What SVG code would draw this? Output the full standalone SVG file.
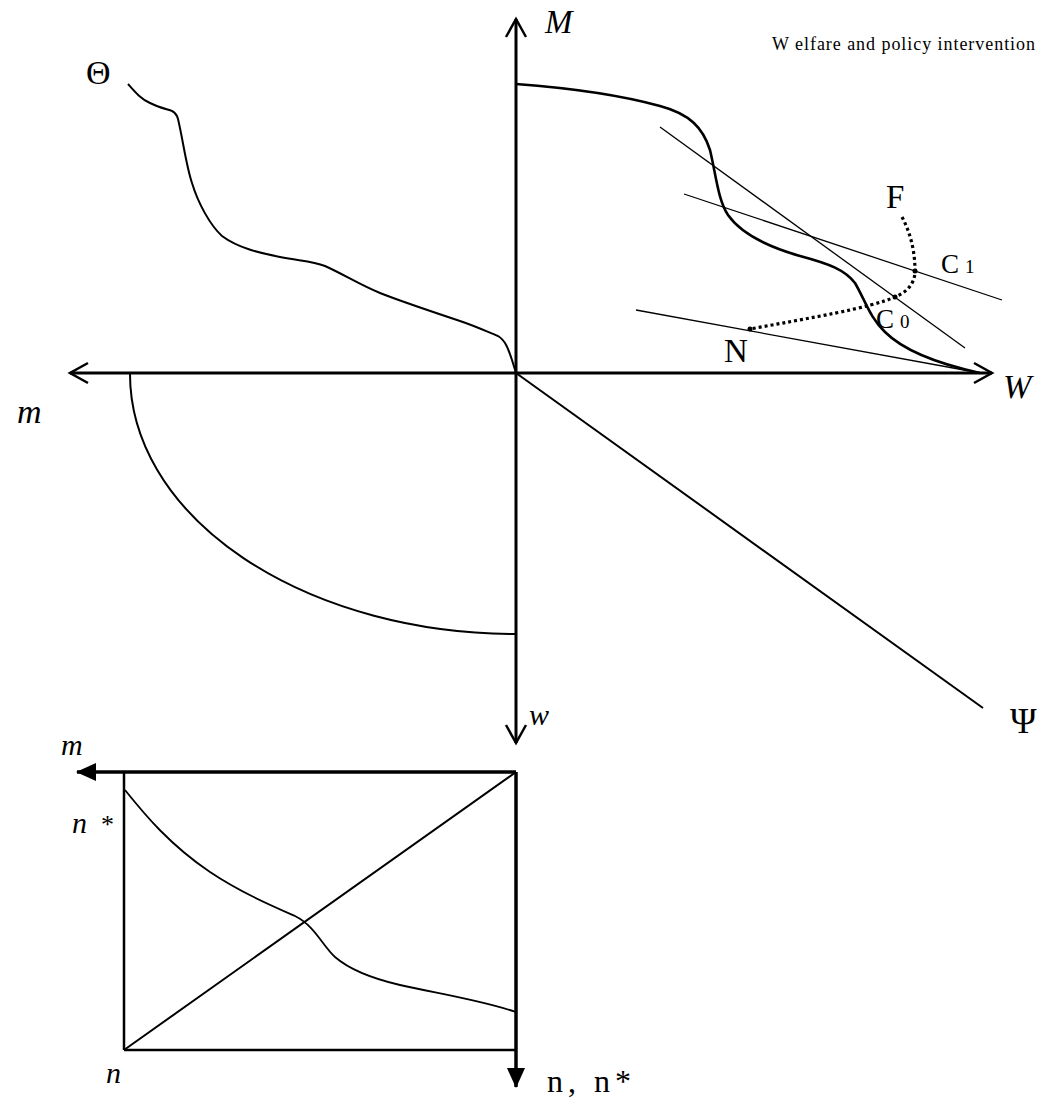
<svg xmlns="http://www.w3.org/2000/svg" width="1053" height="1107" viewBox="0 0 1053 1107">
<style>
.bg{fill:#fff}
.axis{fill:none;stroke:#000;stroke-width:3}
.thick{fill:none;stroke:#000;stroke-width:2.6}
.mid{fill:none;stroke:#000;stroke-width:2}
.thin{fill:none;stroke:#000;stroke-width:1.3}
.dot{fill:none;stroke:#000;stroke-width:3.2;stroke-dasharray:3 3}
.lbl{font-family:"Liberation Serif","Times New Roman",serif;fill:#000}
.it{font-style:italic}
</style>
<defs>
<marker id="chev" viewBox="-2 -12 22 24" refX="18" refY="0" markerWidth="22" markerHeight="24" markerUnits="userSpaceOnUse" orient="auto" overflow="visible">
<path d="M0,-10 L18,0 L0,10" fill="none" stroke="#000" stroke-width="2.5"/>
</marker>
<marker id="tri" viewBox="0 -10 20 20" refX="19" refY="0" markerWidth="20" markerHeight="20" markerUnits="userSpaceOnUse" orient="auto">
<path d="M0,-9 L20,0 L0,9 Z" fill="#000"/>
</marker>
</defs>
<rect class="bg" x="0" y="0" width="1053" height="1107"/>

<g id="connectors">
<path class="axis" d="M516,373 L992,373" marker-end="url(#chev)"/>
<path class="axis" d="M516,373 L70,373" marker-end="url(#chev)"/>
<path class="axis" d="M516,373 L516,19" marker-end="url(#chev)"/>
<path class="axis" d="M516,373 L516,743" marker-end="url(#chev)"/>
<path class="mid" d="M516,373 L983,708"/>
<path class="axis" d="M516,772 L77,772" marker-end="url(#tri)" style="stroke-width:3.5"/>
<path class="axis" d="M516,772 L516,1087" marker-end="url(#tri)" style="stroke-width:3.5"/>
</g>

<g id="theta-curve">
<path class="mid" d="M128,84 C136,93 140,98 150,103 C158,107 166,109 172,111 C176,113 177,115 178,119 C183,140 186,165 192,183 C198,203 210,225 222,236 C238,248 260,253 280,257 C300,261 312,261 325,266 C345,275 360,285 380,293 C400,301 430,311 460,321 C475,326 488,332 498,336 C505,340 508,348 512,360 L516,373"/>
</g>

<g id="ellipse-curve">
<path class="mid" d="M130,374 A386,260 0 0 0 516,634"/>
</g>

<g id="welfare-curve">
<path class="thick" d="M516,84 C570,88 620,95 660,106 C690,114 703,128 710,150 C716,175 718,200 728,215 C740,232 765,246 800,256 C830,264 845,270 855,283 C865,300 870,318 885,332 C900,347 930,362 980,373"/>
</g>

<g id="tangents">
<line class="thin" x1="660" y1="127" x2="965" y2="348"/>
<line class="thin" x1="684" y1="194" x2="1002" y2="300"/>
<line class="thin" x1="636" y1="310" x2="975" y2="372"/>
</g>

<g id="policy-path">
<path class="dot" d="M902,217 C910,232 915,250 915,271 C915,285 905,293 895,297 C870,308 810,318 750,329"/>
<circle cx="915" cy="271" r="2.5"/>
<circle cx="895" cy="297" r="2.5"/>
<circle cx="750" cy="329" r="2.5"/>
</g>

<g id="box">
<line class="mid" x1="124" y1="772" x2="124" y2="1050" style="stroke-width:2.5"/>
<line class="mid" x1="124" y1="1050" x2="516" y2="1050" style="stroke-width:2.5"/>
<line class="mid" x1="124" y1="1050" x2="516" y2="772"/>
<path class="mid" d="M125,790 C145,815 170,845 210,872 C240,892 270,905 295,916 C315,926 322,945 335,957 C350,970 370,978 400,985 C440,994 480,1000 516,1012" style="stroke-width:1.8"/>
</g>

<g id="labels">
<text class="lbl" x="86" y="84" font-size="34">Θ</text>
<text class="lbl it" x="545" y="33" font-size="33">M</text>
<text class="lbl" x="772" y="50" font-size="18" textLength="263" lengthAdjust="spacing">W elfare and policy intervention</text>
<text class="lbl" x="886" y="208" font-size="33">F</text>
<text class="lbl" x="941" y="273" font-size="27">C<tspan font-size="19" dx="6">1</tspan></text>
<text class="lbl" x="876" y="328" font-size="27">C<tspan font-size="19" dx="6">0</tspan></text>
<text class="lbl" x="724" y="362" font-size="33">N</text>
<text class="lbl it" x="1003" y="398" font-size="34">W</text>
<text class="lbl it" x="17" y="423" font-size="34">m</text>
<text class="lbl" x="1010" y="733" font-size="36">Ψ</text>
<text class="lbl it" x="529" y="725" font-size="30">w</text>
<text class="lbl it" x="61" y="755" font-size="30">m</text>
<text class="lbl it" x="72" y="833" font-size="30">n</text>
<text class="lbl" x="101" y="833" font-size="26">*</text>
<text class="lbl it" x="106" y="1083" font-size="30">n</text>
<text class="lbl" x="547" y="1092" font-size="32" letter-spacing="5">n, n*</text>
</g>
</svg>
